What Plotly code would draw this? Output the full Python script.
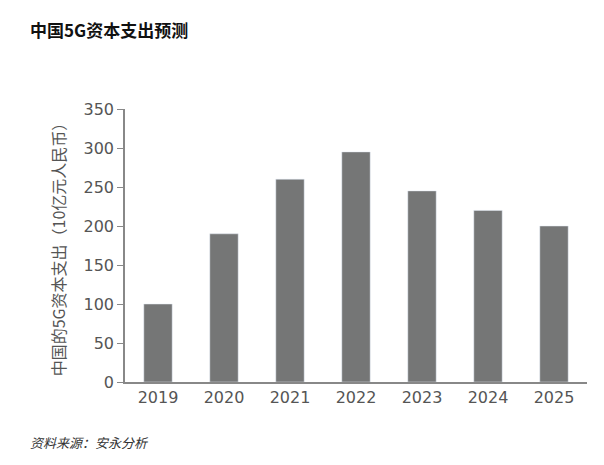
import plotly.graph_objects as go

years = ["2019", "2020", "2021", "2022", "2023", "2024", "2025"]
capex = [100, 190, 260, 295, 245, 220, 200]
yticks = [0, 50, 100, 150, 200, 250, 300, 350]

font = "Noto Sans CJK SC"
tickfont = dict(family="DejaVu Sans", size=16, color="#555555")
L, R, T, B = 117, 25, 101, 91
fig = go.Figure(go.Bar(x=years, y=capex, marker_color="#757676", width=0.43))
fig.update_layout(
    width=604, height=465, margin=dict(l=L, r=R, t=T, b=B),
    plot_bgcolor="white", paper_bgcolor="white", showlegend=False,
    font=dict(family=font, color="#555555", size=17),
    xaxis=dict(showline=True, linecolor="#888888", linewidth=1.5, ticks="",
               tickfont=tickfont),
    yaxis=dict(range=[0, 350], tickvals=yticks, showgrid=False, showline=True,
               linecolor="#888888", linewidth=1.5, ticks="outside", ticklen=6,
               tickcolor="#888888", tickfont=tickfont,
               title=dict(text="中国的5G资本支出（10亿元人民币）", font=dict(size=16, color="#555555"), standoff=14)),
    annotations=[
        dict(text="<b>中国5G资本支出预测</b>", x=20, y=22, showarrow=False,
             font=dict(size=17, color="#111111", family=font)),
        dict(text="<i>资料来源：安永分析</i>", x=20, y=434, showarrow=False,
             font=dict(size=13, color="#333333", family=font)),
    ],
)
pw, ph = 604 - L - R, 465 - T - B
for a in fig.layout.annotations:
    px, py = a.x, a.y
    a.x = (px - L) / pw
    a.y = (465 - B - py) / ph
    a.xref = "paper"; a.yref = "paper"
    a.xanchor = "left"; a.yanchor = "middle"
fig.write_html("out.html")
